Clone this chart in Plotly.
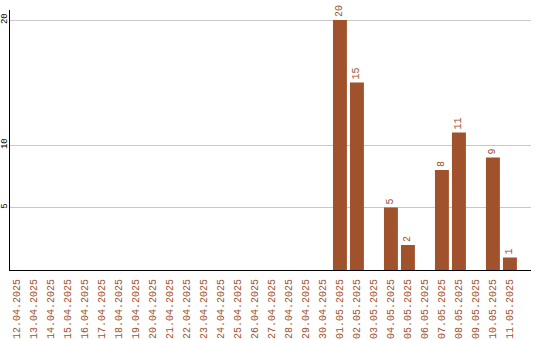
import plotly.graph_objects as go

dates = [
    "12.04.2025", "13.04.2025", "14.04.2025", "15.04.2025", "16.04.2025",
    "17.04.2025", "18.04.2025", "19.04.2025", "20.04.2025", "21.04.2025",
    "22.04.2025", "23.04.2025", "24.04.2025", "25.04.2025", "26.04.2025",
    "27.04.2025", "28.04.2025", "29.04.2025", "30.04.2025", "01.05.2025",
    "02.05.2025", "03.05.2025", "04.05.2025", "05.05.2025", "06.05.2025",
    "07.05.2025", "08.05.2025", "09.05.2025", "10.05.2025", "11.05.2025",
]
counts = [0] * 19 + [20, 15, 0, 5, 2, 0, 8, 11, 0, 9, 1]
y_ticks = [5, 10, 20]

BAR = "#A0522D"
FONT = "Liberation Mono"

labels = [str(v) if v else "" for v in counts]
idx = list(range(len(dates)))

fig = go.Figure(
    go.Bar(
        x=idx,
        y=counts,
        width=0.82,
        marker=dict(color=BAR, line=dict(width=0)),
        text=labels,
        textposition="outside",
        textangle=-90,
        textfont=dict(family=FONT, size=10, color=BAR),
        cliponaxis=False,
        hoverinfo="skip",
    )
)

fig.update_layout(
    width=540,
    height=340,
    margin=dict(l=10, r=9, t=10, b=70),
    paper_bgcolor="white",
    plot_bgcolor="white",
    showlegend=False,
    xaxis=dict(
        range=[-0.41, 30.24],
        tickmode="array",
        tickvals=idx,
        ticktext=dates,
        tickangle=-90,
        tickfont=dict(family=FONT, size=10, color=BAR),
        ticklabelstandoff=4,
        showgrid=False,
        showline=True,
        linecolor="black",
        linewidth=1,
        ticks="",
        zeroline=False,
        automargin=False,
        fixedrange=True,
    ),
    yaxis=dict(
        range=[0, 20.8],
        tickmode="array",
        tickvals=y_ticks,
        tickangle=-90,
        tickfont=dict(family=FONT, size=9, color="black"),
        ticklabelstandoff=-2,
        showgrid=True,
        gridcolor="#c8c8c8",
        gridwidth=1,
        showline=True,
        linecolor="black",
        linewidth=1,
        ticks="",
        zeroline=False,
        automargin=False,
        fixedrange=True,
    ),
)

fig.write_html("out.html")
